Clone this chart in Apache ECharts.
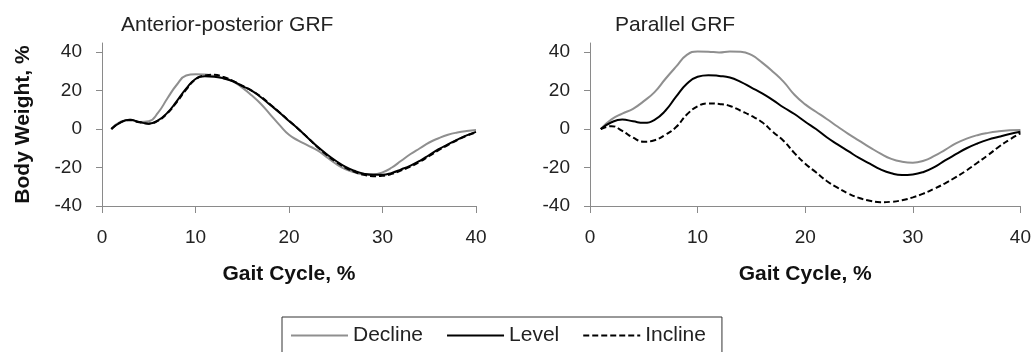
<!DOCTYPE html>
<html>
<head>
<meta charset="utf-8">
<script src="https://cdn.jsdelivr.net/npm/echarts@6/dist/echarts.min.js"></script>
<style>
  html, body { margin: 0; padding: 0; background: #fff; }
  #chart { width: 1034px; height: 352px; }
</style>
</head>
<body>
<div id="chart"></div>
<script>
// gait cycle positions (%)
const cycle = [1,2,3,4,5,6,7,8,9,10,11,12,13,14,15,16,17,18,19,20,21,22,23,24,25,26,27,28,29,30,31,32,33,34,35,36,37,38,39,40];
const yTicks = [-40, -20, 0, 20, 40];

// Anterior-posterior GRF, % body weight
const apDecline = [0,3.8,4.8,3.6,4,8.5,16,23,27.8,28.5,28.3,27.5,26.5,24.8,21.5,17.5,13,7.5,2,-3,-6,-8.5,-11,-14.5,-18,-20.8,-22.5,-23.5,-23.5,-22.5,-20,-16.5,-13,-10,-7,-4.8,-3,-1.8,-1,-0.5];
const apLevel = [0,3.5,4.8,3.6,2.8,4.5,8.5,14.5,21,26,27.4,27.2,26.3,24.8,22.3,20,16.5,12.5,8.5,4.2,0,-4.5,-9,-13,-16.5,-19.5,-21.7,-23.2,-23.8,-23.8,-22.8,-21,-19,-16.5,-13.5,-10.5,-8,-5.5,-3.3,-1.5];
const apIncline = [0,3.5,4.6,3.5,2.8,4.3,8.2,14,20.5,25.8,27.8,28.2,27,25,22.5,20,16.8,12.8,8.6,4.3,0,-4.5,-9.2,-13.3,-17,-20,-22.2,-23.8,-24.5,-24.3,-23.3,-21.5,-19.5,-17,-14,-11,-8.3,-5.7,-3.5,-1.7];

// Parallel GRF, % body weight
const parDecline = [0,5,8,10.5,14.5,19.2,26,32.4,38.5,40.3,40.2,39.8,40.3,40.2,38.5,34.5,29.8,24.5,17.8,12.8,9,5.2,1.3,-2.5,-6,-9.5,-12.8,-15.5,-17,-17.5,-16.5,-14,-10.8,-7.5,-5,-3.2,-2,-1.2,-0.7,-0.5];
const parLevel = [0,3.5,4.9,4,3.2,4.8,9.5,16.8,23.5,27.2,28,27.6,26.8,24.5,21.5,18.5,15,11.2,7.8,3.8,0,-4.3,-8,-11.5,-15,-18,-21,-23,-23.9,-23.6,-22.3,-19.8,-16.3,-13.1,-10,-7.5,-5.5,-4,-2.6,-1.4];
const parIncline = [0,1.5,-1,-4.5,-6.6,-5.8,-3,1,7.5,11.8,13.3,13,12,9.5,6.8,3.5,-1.5,-6.2,-12.5,-18,-22.5,-27,-30.5,-33.5,-35.8,-37.3,-38,-37.8,-37,-35.5,-33.5,-31,-28.2,-25,-21.5,-17.5,-13.5,-9.2,-5.5,-2.2];

const font = 'Liberation Sans, Arial, sans-serif';
const axisGrey = '#8a8a8a';

const pairs = (ys) => cycle.map((x, i) => [x, ys[i]]);

const xAxisBase = (gridIndex) => ({
  gridIndex,
  type: 'value',
  min: 0, max: 40, interval: 10,
  name: 'Gait Cycle, %',
  nameLocation: 'middle',
  nameGap: 58,
  nameTextStyle: { fontFamily: font, fontSize: 21, fontWeight: 'bold', color: '#111' },
  axisLine: { onZero: false, lineStyle: { color: axisGrey, width: 1 } },
  axisTick: { length: 7, lineStyle: { color: axisGrey } },
  axisLabel: { margin: 22, fontFamily: font, fontSize: 19, color: '#222' },
  splitLine: { show: false }
});

const yAxisBase = (gridIndex, withName) => ({
  gridIndex,
  type: 'value',
  min: -40, max: 44.7,
  name: withName ? 'Body Weight, %' : '',
  nameLocation: 'middle',
  nameRotate: 90,
  nameGap: 68,
  nameTextStyle: { fontFamily: font, fontSize: 21, fontWeight: 'bold', color: '#111' },
  axisLine: { show: true, lineStyle: { color: axisGrey, width: 1 } },
  axisTick: { show: true, length: 6, customValues: yTicks, lineStyle: { color: axisGrey } },
  axisLabel: { margin: 20, customValues: yTicks, fontFamily: font, fontSize: 19, color: '#222' },
  splitLine: { show: false }
});

const lineSeries = (name, data, idx, color, type) => ({
  name,
  type: 'line',
  xAxisIndex: idx,
  yAxisIndex: idx,
  data: pairs(data),
  smooth: true,
  symbol: 'none',
  lineStyle: { color, width: 2, type },
  itemStyle: { color },
  z: color === '#000' ? 2 : 1
});

const chart = echarts.init(document.getElementById('chart'));
chart.setOption({
  backgroundColor: '#fff',
  animation: false,
  title: [
    { text: 'Anterior-posterior GRF', left: 116, top: 10,
      textStyle: { fontFamily: font, fontSize: 21, fontWeight: 'normal', color: '#222' } },
    { text: 'Parallel GRF', left: 610, top: 10,
      textStyle: { fontFamily: font, fontSize: 21, fontWeight: 'normal', color: '#222' } }
  ],
  grid: [
    { left: 102, top: 43, width: 374, height: 163 },
    { left: 590, top: 43, width: 432, height: 163 }
  ],
  xAxis: [xAxisBase(0), xAxisBase(1)],
  yAxis: [yAxisBase(0, true), yAxisBase(1, false)],
  legend: {
    data: ['Decline', 'Level', 'Incline'],
    left: 282,
    top: 317,
    padding: [8, 16, 8, 8],
    itemWidth: 57,
    itemHeight: 22,
    itemGap: 23,
    itemStyle: { opacity: 0 },
    borderColor: '#333',
    borderWidth: 1,
    textStyle: { fontFamily: font, fontSize: 21, color: '#222' }
  },
  series: [
    lineSeries('Decline', apDecline, 0, '#8f8f8f', 'solid'),
    lineSeries('Level', apLevel, 0, '#000', 'solid'),
    lineSeries('Incline', apIncline, 0, '#000', [6, 3]),
    lineSeries('Decline', parDecline, 1, '#8f8f8f', 'solid'),
    lineSeries('Level', parLevel, 1, '#000', 'solid'),
    lineSeries('Incline', parIncline, 1, '#000', [6, 3])
  ]
});
</script>
</body>
</html>
